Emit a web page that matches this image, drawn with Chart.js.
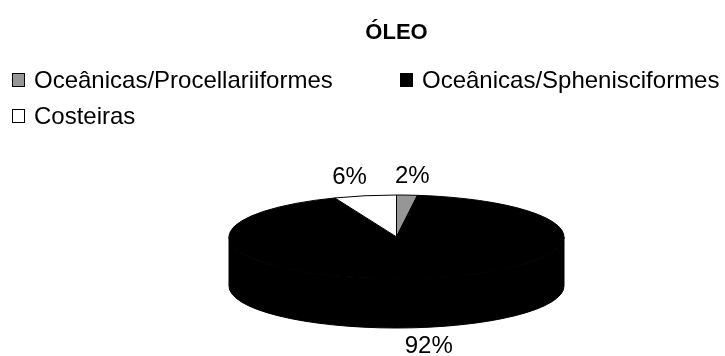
<!DOCTYPE html>
<html>
<head>
<meta charset="utf-8">
<title>ÓLEO</title>
<script src="https://cdn.jsdelivr.net/npm/chart.js@4"></script>
<style>
  html, body { margin: 0; padding: 0; background: #fff; overflow: hidden; }
  .wrap { position: relative; width: 725px; height: 356px; }
  #legend { position: absolute; left: 0; top: 0; }
  .leg-item {
    position: absolute; display: flex; align-items: center; white-space: nowrap;
    font: 24px "Liberation Sans", Arial, sans-serif; color: #000; line-height: 28px;
  }
  .leg-box { width: 11px; height: 12px; border: 1px solid #000; margin-right: 9px; }
</style>
</head>
<body>
<div class="wrap">
  <canvas id="chart" width="725" height="356"></canvas>
  <div id="legend"></div>
</div>
<script>
const FONT = '"Liberation Sans", Arial, sans-serif';

const categories = ['Oceânicas/Procellariiformes', 'Oceânicas/Sphenisciformes', 'Costeiras'];
const shares = [2, 92, 6];
const sliceColors = ['#969696', '#000000', '#ffffff'];

// vertical squash of the pie disc (ry / rx)
const TILT = 0.25;
// labels sit on a wider ring horizontally, like Excel's outside-end labels
const LABEL_SPREAD = 1.35;

function darken(hex, f) {
  const n = parseInt(hex.slice(1), 16);
  const r = Math.round(((n >> 16) & 255) * f);
  const g = Math.round(((n >> 8) & 255) * f);
  const b = Math.round((n & 255) * f);
  return `rgb(${r},${g},${b})`;
}

// draws the pie as a tilted disc with a side wall, plus outside % labels
const pie3d = {
  id: 'pie3d',
  beforeDatasetsDraw(chart) {
    const { ctx, chartArea } = chart;
    const arcs = chart.getDatasetMeta(0).data;
    const values = chart.data.datasets[0].data;
    const colors = chart.data.datasets[0].backgroundColor;
    const total = values.reduce((a, b) => a + b, 0);

    const cx = (chartArea.left + chartArea.right) / 2;
    const rx = (chartArea.right - chartArea.left) / 2;
    const ry = rx * TILT;
    const cy = chartArea.top + ry;
    const depth = chartArea.bottom - chartArea.top - 2 * ry;

    ctx.save();
    ctx.lineWidth = 1;
    ctx.strokeStyle = '#000';

    // side wall, only the front half of the disc shows
    arcs.forEach((arc, i) => {
      for (const k of [-2, 0, 2]) {
        const a0 = Math.max(arc.startAngle, k * Math.PI);
        const a1 = Math.min(arc.endAngle, (k + 1) * Math.PI);
        if (a1 <= a0) continue;
        ctx.beginPath();
        ctx.ellipse(cx, cy, rx, ry, 0, a0, a1);
        ctx.ellipse(cx, cy + depth, rx, ry, 0, a1, a0, true);
        ctx.closePath();
        ctx.fillStyle = darken(colors[i], 0.75);
        ctx.fill();
        ctx.stroke();
      }
    });

    // top faces
    arcs.forEach((arc, i) => {
      ctx.beginPath();
      ctx.moveTo(cx, cy);
      ctx.ellipse(cx, cy, rx, ry, 0, arc.startAngle, arc.endAngle);
      ctx.closePath();
      ctx.fillStyle = colors[i];
      ctx.fill();
      ctx.stroke();
    });

    // percentage labels just outside each slice
    ctx.font = `24px ${FONT}`;
    ctx.fillStyle = '#000';
    ctx.textAlign = 'center';
    ctx.textBaseline = 'middle';
    const gap = 7, h = 24;
    arcs.forEach((arc, i) => {
      const m = (arc.startAngle + arc.endAngle) / 2;
      const c = Math.cos(m), s = Math.sin(m);
      const text = Math.round(values[i] / total * 100) + '%';
      const w = ctx.measureText(text).width;
      const ex = cx + rx * LABEL_SPREAD * c;
      const ey = cy + ry * s + (s > 0 ? depth : 0);
      ctx.fillText(text, ex + c * (w / 2 + gap), ey + s * (h / 2 + gap));
    });

    ctx.restore();
    return false;
  }
};

// legend laid out in two columns above the chart
const htmlLegend = {
  id: 'htmlLegend',
  afterUpdate(chart) {
    const box = document.getElementById('legend');
    box.innerHTML = '';
    const items = chart.options.plugins.legend.labels.generateLabels(chart);
    items.forEach((item, i) => {
      const el = document.createElement('div');
      el.className = 'leg-item';
      el.style.left = (12 + (i % 2) * 388) + 'px';
      el.style.top = (66 + Math.floor(i / 2) * 36) + 'px';
      const sw = document.createElement('span');
      sw.className = 'leg-box';
      sw.style.background = item.fillStyle;
      const label = document.createElement('span');
      label.textContent = item.text;
      el.appendChild(sw);
      el.appendChild(label);
      box.appendChild(el);
    });
  }
};

new Chart(document.getElementById('chart'), {
  type: 'pie',
  plugins: [pie3d, htmlLegend],
  data: {
    labels: categories,
    datasets: [{
      data: shares,
      backgroundColor: sliceColors,
      borderColor: '#000',
      borderWidth: 1,
    }]
  },
  options: {
    responsive: false,
    animation: false,
    layout: { padding: { left: 229, right: 161, top: 0, bottom: 28 } },
    plugins: {
      legend: { display: false },
      tooltip: { enabled: false },
      title: {
        display: true,
        text: 'ÓLEO',
        color: '#000',
        font: { family: FONT, size: 22, weight: 'bold' },
        padding: { top: 20, bottom: 148.6 },
      },
    },
  }
});
</script>
</body>
</html>
